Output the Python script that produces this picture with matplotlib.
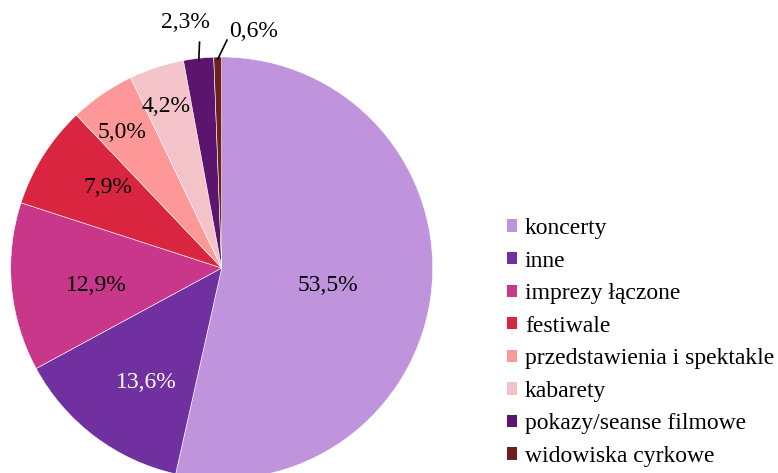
import numpy as np
import matplotlib.pyplot as plt
from matplotlib.patches import Patch

plt.rcParams['font.family'] = ['Liberation Serif', 'DejaVu Serif']

categories = ["koncerty", "inne", "imprezy łączone", "festiwale",
              "przedstawienia i spektakle", "kabarety",
              "pokazy/seanse filmowe", "widowiska cyrkowe"]
shares = [53.5, 13.6, 12.9, 7.9, 5.0, 4.2, 2.3, 0.6]
colors = ["#BF94DD", "#7030A0", "#C8378A", "#D9253F",
          "#FE9898", "#F4C3C9", "#5B156F", "#6E1F1F"]

# inside labels: radial distance, angular nudge (deg), text colour
label_r = [0.51, 0.648, 0.60, 0.66, 0.795, 0.81]
label_nudge = [-3.3, 3.6, 2.5, -3.3, 1.8, 1.0]
label_col = ["black", "white", "black", "black", "black", "black"]
# small slices get outside labels with leader lines (axes data coords)
outside_text = {6: (-0.17, 1.165), 7: (0.15, 1.12)}
leader_start = {6: (-0.105, 1.07), 7: (0.025, 1.08)}

W, H = 778, 473
fs = 17
fig = plt.figure(figsize=(W / 100, H / 100), dpi=100)
cx, cy, r = 221.7, 268, 211
ax = fig.add_axes([(cx - r) / W, (H - cy - r) / H, 2 * r / W, 2 * r / H])

wedges, _ = ax.pie(shares, colors=colors, startangle=90, counterclock=False,
                   wedgeprops=dict(linewidth=0.4, edgecolor="white"))
ax.set_xlim(-1, 1)
ax.set_ylim(-1, 1)
ax.axis("off")
for w in wedges:
    w.set_clip_on(False)

def fmt(v):
    return f"{v:.1f}%".replace(".", ",")

for i, (w, v) in enumerate(zip(wedges, shares)):
    mid = (w.theta1 + w.theta2) / 2
    if i in outside_text:
        tx, ty = outside_text[i]
        sx, sy = leader_start[i]
        ex, ey = np.cos(np.deg2rad(mid)) * 0.99, np.sin(np.deg2rad(mid)) * 0.99
        ax.plot([sx, ex], [sy, ey], color="black", lw=1.2, clip_on=False)
        ax.text(tx, ty, fmt(v), ha="center", va="center", fontsize=fs,
                clip_on=False)
    else:
        a = np.deg2rad(mid + label_nudge[i])
        rr = label_r[i]
        ax.text(rr * np.cos(a), rr * np.sin(a), fmt(v), ha="center",
                va="center", fontsize=fs, color=label_col[i])

handles = [Patch(facecolor=c, edgecolor="none") for c in colors]
fig.legend(handles, categories, loc="upper left",
           bbox_to_anchor=(507 / W, 1 - 218 / H), frameon=False,
           fontsize=fs, handlelength=0.42, handleheight=0.42,
           handletextpad=0.34, labelspacing=0.49, borderpad=0,
           borderaxespad=0)

fig.savefig("out.png", dpi=100)
